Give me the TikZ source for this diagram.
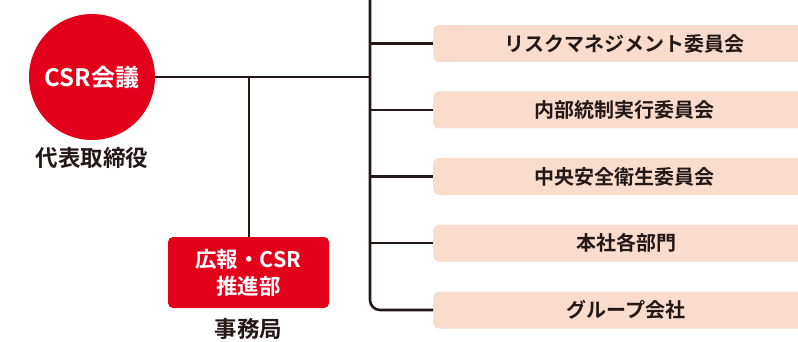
\documentclass[tikz,border=0pt]{standalone}
\usepackage{fontspec}
\setmainfont{Noto Sans CJK JP}[BoldFont={Noto Sans CJK JP Bold}]
\definecolor{cred}{HTML}{E3001B}
\definecolor{cpeach}{HTML}{F9DCCB}
\definecolor{cink}{HTML}{231815}
\begin{document}
\begin{tikzpicture}[x=1pt,y=-1pt,
  conn/.style={draw=cink,line width=2.6pt},
  unitbox/.style={fill=cpeach,rounded corners=6pt,minimum width=382pt,minimum height=37pt,inner sep=0pt,anchor=west},
  unittext/.style={text=cink,font=\bfseries\fontsize{20pt}{22pt}\selectfont},
  caption/.style={text=cink,font=\bfseries\fontsize{22.5pt}{24pt}\selectfont}]
\useasboundingbox (0,0) rectangle (798,342);
% nodes
\node[circle,fill=cred,minimum size=126pt,inner sep=0pt,text=white,font=\bfseries\fontsize{24pt}{26pt}\selectfont] (csr) at (92,77) {CSR会議};
\node[caption] (ceo) at (92,158) {代表取締役};
\node[fill=cred,rounded corners=5pt,minimum width=161pt,minimum height=71pt,inner sep=0pt,text=white,align=center,font=\bfseries\fontsize{21.5pt}{27pt}\selectfont] (pr) at (248.5,272.5) {広報・CSR\\推進部};
\node[caption] (sec) at (248.5,329) {事務局};
\node[unitbox] (b1) at (433,43.5) {};
\node[unitbox] (b2) at (433,110) {};
\node[unitbox] (b3) at (433,176.5) {};
\node[unitbox] (b4) at (433,243) {};
\node[unitbox] (b5) at (433,310) {};
\node[unittext] (t1) at (624,43.5) {リスクマネジメント委員会};
\node[unittext] (t2) at (624,110) {内部統制実行委員会};
\node[unittext] (t3) at (624,176.5) {中央安全衛生委員会};
\node[unittext] (t4) at (626,243) {本社各部門};
\node[unittext] (t5) at (626,310) {グループ会社};
% connectors
\coordinate (top) at (370,-2);
\coordinate (junc) at (370,77);
\coordinate (br) at (249,77);
\draw[conn] (csr.east) -- (junc);
\draw[conn] (br) -- (pr.north -| br);
\draw[conn,rounded corners=10pt] (top) -- (b5.west -| top) -- (b5.west);
\draw[conn] (b1.west -| top) -- (b1.west);
\draw[conn] (b2.west -| top) -- (b2.west);
\draw[conn] (b3.west -| top) -- (b3.west);
\draw[conn] (b4.west -| top) -- (b4.west);
\end{tikzpicture}
\end{document}
